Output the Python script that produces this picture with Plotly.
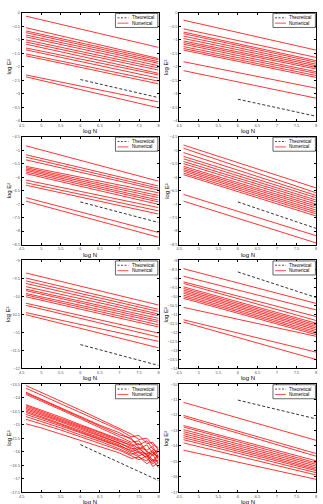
import plotly.graph_objects as go
from plotly.subplots import make_subplots

# ---------------- data ----------------
x_num = [4.61, 8.0]
x_theory = [6.0, 8.0]
x_noisy = [4.61, 5.0, 5.5, 6.0, 6.5, 7.0, 7.3, 7.5, 7.7, 7.85, 8.0]

p1_start = [-0.12, -0.55, -0.67, -0.73, -0.82, -0.89, -1.00, -1.08, -1.16, -1.30, -1.37, -1.52, -1.59, -2.30, -2.37]
p1_end = [-1.28, -1.69, -1.74, -1.81, -1.87, -1.96, -2.04, -2.12, -2.24, -2.30, -2.42, -2.53, -2.63, -3.30, -3.52]
p1_theory = [-2.47, -3.14]

p2_start = [-0.27, -0.59, -0.71, -0.77, -0.86, -0.95, -1.04, -1.10, -1.16, -1.25, -1.32, -1.38, -1.81, -2.14]
p2_end = [-1.38, -1.65, -1.77, -1.83, -1.90, -1.96, -2.02, -2.08, -2.18, -2.24, -2.32, -2.39, -2.79, -3.16]
p2_theory = [-3.20, -3.83]

p3_start = [-4.84, -5.17, -5.26, -5.36, -5.60, -5.65, -5.70, -5.75, -5.81, -5.87, -6.11, -6.21, -6.30, -6.76, -6.89]
p3_end = [-6.15, -6.33, -6.41, -6.48, -6.58, -6.68, -6.76, -6.85, -6.92, -7.01, -7.13, -7.25, -7.37, -8.05, -8.23]
p3_theory = [-6.92, -7.68]

p4_start = [-4.81, -4.93, -5.09, -5.23, -5.32, -5.42, -5.50, -5.60, -5.66, -5.72, -5.78, -5.85, -5.91, -6.64, -6.89]
p4_end = [-6.40, -6.58, -6.68, -6.76, -6.85, -6.92, -7.00, -7.07, -7.14, -7.22, -7.29, -7.36, -7.44, -8.17, -8.44]
p4_theory = [-6.92, -7.90]

p5_start = [-9.35, -9.49, -9.57, -9.64, -9.73, -9.80, -9.84, -9.92, -9.96, -10.01, -10.19, -10.25, -10.45, -10.51]
p5_end = [-10.24, -10.36, -10.42, -10.49, -10.54, -10.61, -10.67, -10.72, -10.79, -10.85, -11.02, -11.13, -11.25, -11.43]
p5_theory = [-11.34, -11.92]

p6_start = [-8.46, -8.88, -9.19, -9.28, -9.47, -9.56, -9.65, -9.74, -9.83, -9.93, -10.02, -10.11, -10.61, -11.30, -11.43]
p6_end = [-10.39, -10.75, -11.12, -11.34, -11.49, -11.58, -11.67, -11.76, -11.85, -11.95, -12.04, -12.13, -12.22, -13.10, -13.51]
p6_theory = [-8.64, -10.06]

p7_lines = [
    [-13.55, -13.80, -14.13, -14.46, -14.80, -15.15, -15.35, -15.55, -15.50, -15.75, -15.85],
    [-13.65, -13.90, -14.22, -14.55, -14.88, -15.20, -15.45, -15.40, -15.70, -15.65, -15.95],
    [-13.80, -14.05, -14.38, -14.70, -15.02, -15.30, -15.55, -15.75, -15.60, -15.90, -16.05],
    [-13.83, -14.08, -14.41, -14.74, -15.07, -15.38, -15.50, -15.85, -15.95, -15.80, -16.20],
    [-13.88, -14.12, -14.45, -14.78, -15.10, -15.45, -15.65, -15.60, -16.00, -16.10, -15.90],
    [-14.26, -14.45, -14.72, -15.00, -15.27, -15.55, -15.70, -15.90, -15.75, -16.05, -16.20],
    [-14.30, -14.50, -14.77, -15.04, -15.30, -15.58, -15.80, -15.70, -16.00, -16.15, -15.95],
    [-14.35, -14.55, -14.82, -15.08, -15.35, -15.62, -15.75, -16.00, -16.10, -15.95, -16.30],
    [-14.40, -14.60, -14.86, -15.12, -15.40, -15.68, -15.90, -15.85, -16.15, -16.35, -16.10],
    [-14.45, -14.64, -14.90, -15.17, -15.44, -15.70, -15.85, -16.05, -16.20, -16.00, -16.25],
    [-14.50, -14.70, -14.96, -15.22, -15.48, -15.75, -16.00, -15.90, -16.10, -16.40, -16.15],
    [-14.55, -14.74, -15.00, -15.27, -15.53, -15.80, -15.95, -16.15, -16.05, -16.30, -16.35],
    [-14.62, -14.80, -15.05, -15.30, -15.57, -15.82, -16.05, -16.20, -16.35, -16.10, -16.45],
    [-14.70, -14.88, -15.12, -15.38, -15.62, -15.90, -16.10, -16.00, -16.25, -16.45, -16.30],
    [-14.80, -14.97, -15.20, -15.45, -15.70, -15.95, -16.15, -16.30, -16.15, -16.55, -16.40],
    [-14.97, -15.12, -15.35, -15.58, -15.82, -16.05, -16.25, -16.20, -16.45, -16.30, -16.60],
]
p7_theory = [-15.74, -17.07]

p8_start = [-11.18, -12.03, -12.14, -12.68, -12.78, -12.95, -13.08, -13.21, -13.34, -13.47, -13.60, -13.81, -14.28]
p8_end = [-13.64, -14.50, -14.67, -14.97, -15.10, -15.20, -15.31, -15.42, -15.52, -15.61, -15.74, -15.89, -16.17]
p8_theory = [-11.03, -12.25]

y_ranges = [(-4, 0), (-4, 0), (-8.5, -4.5), (-8.5, -4.5), (-12, -9), (-14, -8), (-17.5, -13.5), (-17, -10)]
y_dticks = [0.5, 0.5, 0.5, 0.5, 0.5, 0.5, 0.5, 1]
x_ticks = [4.5, 5, 5.5, 6, 6.5, 7, 7.5, 8]
x_ticktext = ["4.5", "5", "5.5", "6", "6.5", "7", "7.5", "8"]
legend_labels = ["Theoretical", "Numerical"]

# ---------------- figure ----------------
W, H = 323, 504
fig = make_subplots(rows=4, cols=2)

red = "#ff0000"
lw = 0.8

panels_simple = {
    1: (p1_start, p1_end, p1_theory),
    2: (p2_start, p2_end, p2_theory),
    3: (p3_start, p3_end, p3_theory),
    4: (p4_start, p4_end, p4_theory),
    5: (p5_start, p5_end, p5_theory),
    6: (p6_start, p6_end, p6_theory),
    8: (p8_start, p8_end, p8_theory),
}

def rc(k):
    return (k - 1) // 2 + 1, (k - 1) % 2 + 1

for k in range(1, 9):
    r, c = rc(k)
    if k == 7:
        for ys in p7_lines:
            fig.add_trace(go.Scatter(x=x_noisy, y=ys, mode="lines",
                                     line=dict(color=red, width=lw), showlegend=False), row=r, col=c)
        theo = p7_theory
    else:
        s, e, theo = panels_simple[k]
        for a, b in zip(s, e):
            fig.add_trace(go.Scatter(x=x_num, y=[a, b], mode="lines",
                                     line=dict(color=red, width=lw), showlegend=False), row=r, col=c)
    fig.add_trace(go.Scatter(x=x_theory, y=theo, mode="lines",
                             line=dict(color="black", width=lw, dash="3px,2px"), showlegend=False), row=r, col=c)

col_px = [(19, 158), (179, 318)]
row_px = [(10, 119), (135, 244), (260, 369), (385, 494)]

annotations = []
shapes = []
for k in range(1, 9):
    r, c = rc(k)
    x0, x1 = col_px[c - 1]
    t, b = row_px[r - 1]
    xa = "xaxis" if k == 1 else f"xaxis{k}"
    ya = "yaxis" if k == 1 else f"yaxis{k}"
    axis_common = dict(showline=True, linecolor="black", linewidth=0.8, mirror="ticks",
                       ticks="inside", ticklen=2, tickwidth=0.5, tickcolor="black",
                       showgrid=False, zeroline=False,
                       tickfont=dict(size=4, color="#555555"))
    fig.layout[xa].update(domain=[x0 / W, x1 / W], range=[4.5, 8],
                          tickvals=x_ticks, ticktext=x_ticktext, **axis_common)
    lo, hi = y_ranges[k - 1]
    fig.layout[ya].update(domain=[1 - b / H, 1 - t / H], range=[lo, hi],
                          dtick=y_dticks[k - 1], tick0=0, **axis_common)
    xr = "x domain" if k == 1 else f"x{k} domain"
    yr = "y domain" if k == 1 else f"y{k} domain"
    annotations.append(dict(text="log N", x=0.5, y=0, xref=xr, yref=yr, xanchor="center",
                            yanchor="top", yshift=-5, showarrow=False,
                            font=dict(size=6, color="black")))
    annotations.append(dict(text="log E²", x=0, y=0.5, xref=xr, yref=yr,
                            xanchor="center", yanchor="middle", xshift=-13, textangle=-90,
                            showarrow=False, font=dict(size=6, color="black")))
    # legend box
    shapes.append(dict(type="rect", xref=xr, yref=yr, x0=0.685, x1=0.995, y0=0.865, y1=0.995,
                       line=dict(color="black", width=0.6), fillcolor="white", layer="above"))
    shapes.append(dict(type="line", xref=xr, yref=yr, x0=0.70, x1=0.78, y0=0.955, y1=0.955,
                       line=dict(color="black", width=0.7, dash="2px,1.5px"), layer="above"))
    shapes.append(dict(type="line", xref=xr, yref=yr, x0=0.70, x1=0.78, y0=0.905, y1=0.905,
                       line=dict(color=red, width=0.7), layer="above"))
    annotations.append(dict(text=legend_labels[0], x=0.79, y=0.955, xref=xr, yref=yr,
                            xanchor="left", yanchor="middle", showarrow=False,
                            font=dict(size=4.5, color="black")))
    annotations.append(dict(text=legend_labels[1], x=0.79, y=0.905, xref=xr, yref=yr,
                            xanchor="left", yanchor="middle", showarrow=False,
                            font=dict(size=4.5, color="black")))

fig.update_layout(width=W, height=H, margin=dict(l=0, r=0, t=0, b=0),
                  paper_bgcolor="white", plot_bgcolor="white",
                  font=dict(family="Liberation Sans, Arial, sans-serif"),
                  annotations=annotations, shapes=shapes, showlegend=False)

fig.write_html("out.html")
